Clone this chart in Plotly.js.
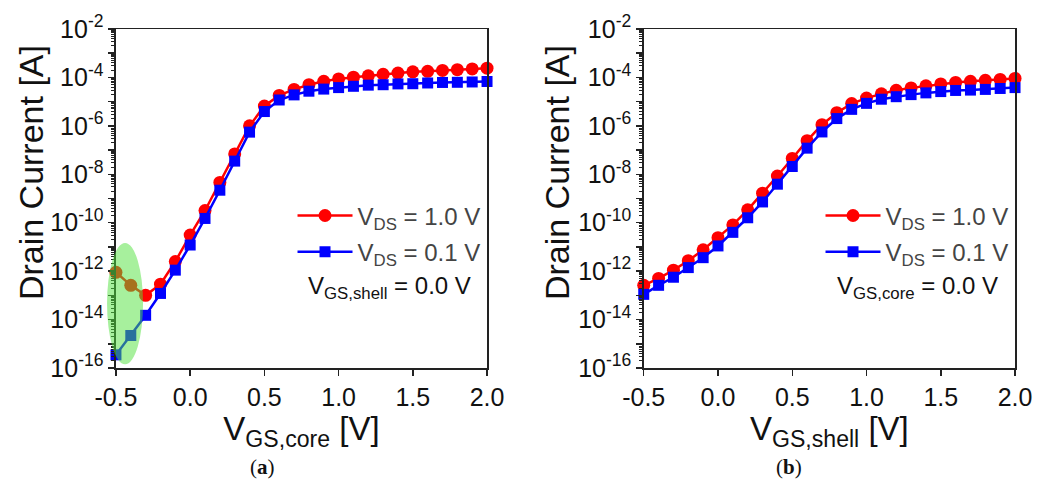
<!DOCTYPE html>
<html>
<head>
<meta charset="utf-8">
<script src="https://cdn.plot.ly/plotly-3.0.1.min.js"></script>
<style>html,body{margin:0;padding:0;background:#fff;}#chart{width:1056px;height:483px;}</style>
</head>
<body>
<div id="chart"></div>
<script>
// Gate voltage sweep (V)
const vgs = [-0.5,-0.4,-0.3,-0.2,-0.1,0.0,0.1,0.2,0.3,0.4,0.5,0.6,0.7,0.8,0.9,1.0,1.1,1.2,1.3,1.4,1.5,1.6,1.7,1.8,1.9,2.0];

// (a) sweep of V_GS,core, V_GS,shell = 0.0 V
const coreVds10 = [8.9e-13,2.6e-13,1.0e-13,2.9e-13,2.5e-12,3.1e-11,3.2e-10,4.6e-9,6.9e-8,1.0e-6,6.6e-6,1.8e-5,3.2e-5,5.0e-5,6.9e-5,8.7e-5,1.02e-4,1.17e-4,1.35e-4,1.51e-4,1.70e-4,1.78e-4,1.95e-4,2.09e-4,2.24e-4,2.40e-4];
const coreVds01 = [3.5e-16,2.2e-15,1.5e-14,1.2e-13,1.1e-12,1.2e-11,1.5e-10,2.2e-9,3.5e-8,5.5e-7,3.9e-6,1.17e-5,1.9e-5,2.7e-5,3.3e-5,3.8e-5,4.3e-5,4.8e-5,5.0e-5,5.4e-5,5.5e-5,5.9e-5,6.2e-5,6.3e-5,6.5e-5,6.8e-5];

// (b) sweep of V_GS,shell, V_GS,core = 0.0 V
const shellVds10 = [2.6e-13,5.0e-13,1.1e-12,2.7e-12,7.6e-12,2.4e-11,8.1e-11,3.4e-10,1.66e-9,8.5e-9,4.5e-8,2.45e-7,1.12e-6,3.5e-6,8.3e-6,1.4e-5,2.1e-5,2.95e-5,3.7e-5,4.5e-5,5.4e-5,6.2e-5,6.9e-5,7.6e-5,8.3e-5,9.1e-5];
const shellVds01 = [1.1e-13,2.6e-13,5.6e-13,1.4e-12,3.6e-12,1.1e-11,4.0e-11,1.6e-10,7.2e-10,3.9e-9,2.1e-8,1.2e-7,5.6e-7,2.0e-6,4.8e-6,8.5e-6,1.26e-5,1.6e-5,1.95e-5,2.3e-5,2.6e-5,2.9e-5,3.0e-5,3.2e-5,3.5e-5,3.8e-5];

const seriesNames = ['V<sub>DS</sub> = 1.0 V','V<sub>DS</sub> = 0.1 V'];
const xTickVals = [-0.5,0.0,0.5,1.0,1.5,2.0];
const xTickText = ['-0.5','0.0','0.5','1.0','1.5','2.0'];
const yExponents = [-16,-15,-14,-13,-12,-11,-10,-9,-8,-7,-6,-5,-4,-3,-2];

const RED = '#ff0000', BLUE = '#0000ff';
const FONT = 'Liberation Sans, Arial, sans-serif';

const yTickVals = yExponents.map(e => Math.pow(10, e));
const yTickText = yExponents.map(e => (e % 2 === 0) ? '10<sup>' + e + '</sup>' : '');
const yMinor = [];
yExponents.slice(0, -1).forEach(e => { for (let k = 2; k <= 9; k++) yMinor.push(k * Math.pow(10, e)); });

function mk(x, y, name, color, symbol, size, xa, ya, leg, grp) {
  return {x: x, y: y, name: name, type: 'scatter', mode: 'lines+markers',
    line: {color: color, width: 2.5}, marker: {color: color, symbol: symbol, size: size},
    xaxis: xa, yaxis: ya, legend: leg, legendgroup: grp, cliponaxis: false};
}
const traces = [
  mk(vgs, coreVds10, seriesNames[0], RED, 'circle', 13, 'x', 'y', 'legend', 'a1'),
  mk(vgs, coreVds01, seriesNames[1], BLUE, 'square', 11, 'x', 'y', 'legend', 'a2'),
  mk(vgs, shellVds10, seriesNames[0], RED, 'circle', 13, 'x2', 'y2', 'legend2', 'b1'),
  mk(vgs, shellVds01, seriesNames[1], BLUE, 'square', 11, 'x2', 'y2', 'legend2', 'b2')
];

function xax(domain, anchor, title) {
  return {domain: domain, anchor: anchor, range: [-0.5, 2.0], tickmode: 'array', tickvals: xTickVals, ticktext: xTickText,
    ticks: 'outside', ticklen: 6, tickwidth: 1.5, tickcolor: '#222', showgrid: false, zeroline: false,
    showline: true, linecolor: '#222', linewidth: 1.5, mirror: true,
    tickfont: {family: FONT, size: 25, color: '#111'},
    title: {text: title, font: {family: FONT, size: 33, color: '#111'}, standoff: 3}};
}
function yax(anchor) {
  return {domain: [0, 1], anchor: anchor, type: 'log', range: [-16, -2], tickmode: 'array', tickvals: yTickVals, ticktext: yTickText,
    ticks: 'outside', ticklen: 6, tickwidth: 1.5, tickcolor: '#222', showgrid: false, zeroline: false,
    showline: true, linecolor: '#222', linewidth: 1.5, mirror: true,
    minor: {tickmode: 'array', tickvals: yMinor, ticks: 'outside', ticklen: 3, tickwidth: 1, tickcolor: '#222', showgrid: false},
    tickfont: {family: FONT, size: 25, color: '#111'}};
}
function legend(x) {
  return {x: x, y: 0.515, xanchor: 'left', yanchor: 'top', bgcolor: 'rgba(0,0,0,0)', borderwidth: 0,
    font: {family: FONT, size: 24}, itemwidth: 55, tracegroupgap: 2, traceorder: 'grouped'};
}

const layout = {
  width: 1056, height: 483,
  margin: {l: 0, r: 0, t: 29, b: 115},
  paper_bgcolor: '#fff', plot_bgcolor: '#fff',
  showlegend: true,
  xaxis: xax([0.1098, 0.4612], 'y', 'V<sub>GS,core</sub> [V]'),
  yaxis: yax('x'),
  xaxis2: xax([0.6096, 0.9612], 'y2', 'V<sub>GS,shell</sub> [V]'),
  yaxis2: yax('x2'),
  legend: legend(0.277),
  legend2: legend(0.777),
  shapes: [{type: 'circle', xref: 'x domain', yref: 'y domain', x0: -0.024, x1: 0.073, y0: 0.011, y1: 0.369,
    fillcolor: 'rgba(80,225,60,0.5)', line: {width: 0}, layer: 'above'}],
  annotations: [
    {text: 'Drain Current [A]', textangle: -90, xref: 'paper', yref: 'paper', x: 0.0294, y: 0.575, xanchor: 'center', yanchor: 'middle', showarrow: false, font: {family: FONT, size: 34, color: '#111'}},
    {text: 'Drain Current [A]', textangle: -90, xref: 'paper', yref: 'paper', x: 0.5275, y: 0.575, xanchor: 'center', yanchor: 'middle', showarrow: false, font: {family: FONT, size: 34, color: '#111'}},
    {text: 'V<sub>GS,shell</sub> = 0.0 V', xref: 'paper', yref: 'paper', x: 0.369, y: 0.236, xanchor: 'center', yanchor: 'middle', showarrow: false, font: {family: FONT, size: 24, color: '#111'}},
    {text: 'V<sub>GS,core</sub> = 0.0 V', xref: 'paper', yref: 'paper', x: 0.869, y: 0.236, xanchor: 'center', yanchor: 'middle', showarrow: false, font: {family: FONT, size: 24, color: '#111'}},
    {text: '(<b>a</b>)', xref: 'paper', yref: 'paper', x: 0.249, y: -0.292, xanchor: 'center', yanchor: 'middle', showarrow: false, font: {family: 'Liberation Serif, Times New Roman, serif', size: 21, color: '#111'}},
    {text: '(<b>b</b>)', xref: 'paper', yref: 'paper', x: 0.747, y: -0.292, xanchor: 'center', yanchor: 'middle', showarrow: false, font: {family: 'Liberation Serif, Times New Roman, serif', size: 21, color: '#111'}}
  ]
};

Plotly.newPlot('chart', traces, layout, {staticPlot: true, displayModeBar: false});
</script>
</body>
</html>
